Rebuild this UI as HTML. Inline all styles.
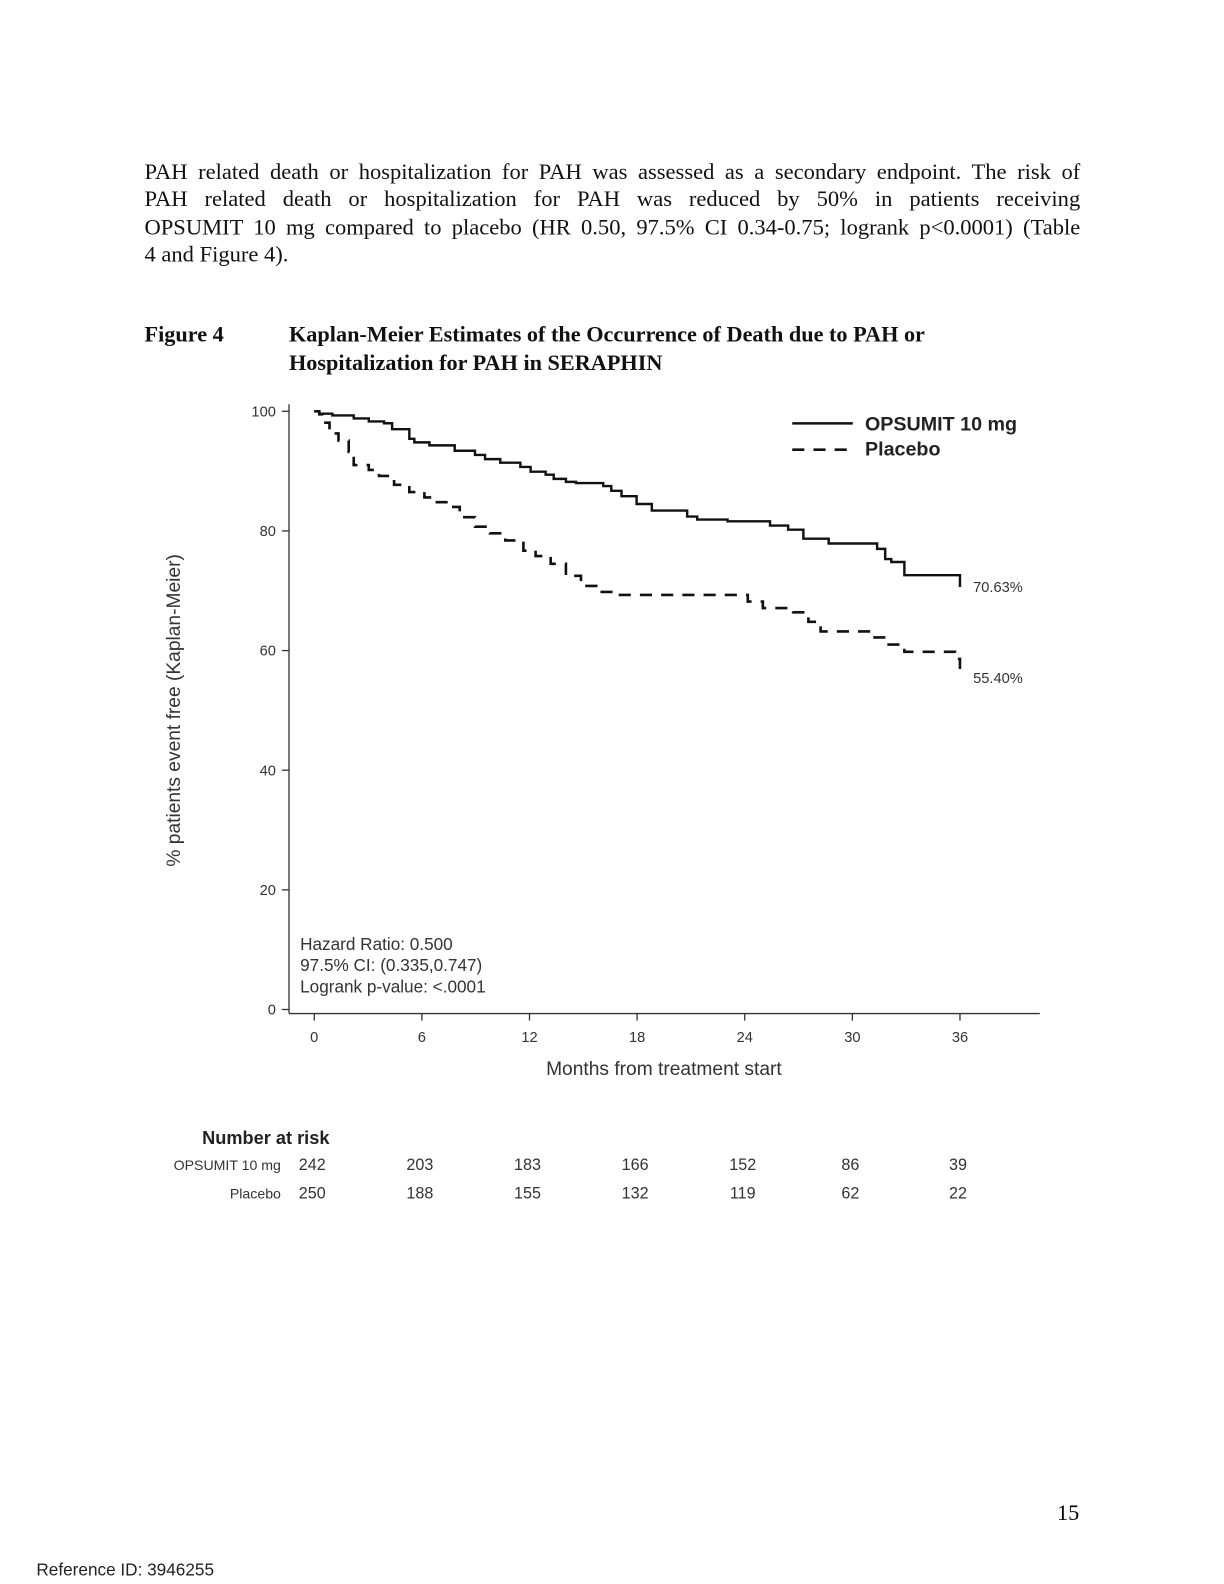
<!DOCTYPE html>
<html><head><meta charset="utf-8"><style>
html{margin:0;padding:0;width:1224px;height:1584px;overflow:hidden;background:#fff;}
body{margin:0;padding:0;width:1224px;height:1584px;position:relative;overflow:hidden;background:#fff;}
#wrap{position:absolute;left:0;top:0;width:1224px;height:1584px;transform:scale(1.0105);transform-origin:0 0;}
.ln{position:absolute;left:143px;width:926px;font-family:"Liberation Serif",serif;font-size:22.3px;line-height:27.5px;text-align:justify;text-align-last:justify;color:#111;white-space:nowrap;}
.ln.last{text-align-last:left;}
.cap{position:absolute;font-family:"Liberation Serif",serif;font-weight:bold;font-size:22px;line-height:28px;color:#111;white-space:nowrap;}
svg{position:absolute;left:0;top:0;display:block;}
</style></head><body>
<div id="wrap">
<div>
<div class="ln" style="top:156px;white-space:normal">PAH related death or hospitalization for PAH was assessed as a secondary endpoint. The risk of</div>
<div class="ln" style="top:183px;white-space:normal">PAH related death or hospitalization for PAH was reduced by 50% in patients receiving</div>
<div class="ln" style="top:211px;white-space:normal">OPSUMIT 10 mg compared to placebo (HR 0.50, 97.5% CI 0.34-0.75; logrank p&lt;0.0001) (Table</div>
<div class="ln last" style="top:238px">4 and Figure 4).</div>
</div>
<div class="cap" style="left:143px;top:317px">Figure 4</div>
<div class="cap" style="left:286px;top:317px">Kaplan-Meier Estimates of the Occurrence of Death due to PAH or<br>Hospitalization for PAH in SERAPHIN</div>
<svg id="chart" width="1224" height="1584" font-family="Liberation Sans, sans-serif"></svg>
<div style="position:absolute;left:1046px;top:1484px;font-family:'Liberation Serif',serif;font-size:22px">15</div>
<div style="position:absolute;left:36px;top:1544px;font-family:'Liberation Sans',sans-serif;font-size:17px;color:#222">Reference ID: 3946255</div>
</div>
<script>
const xTicks=[0,6,12,18,24,30,36];
const yTicks=[0,20,40,60,80,100];
const opsMonths=[0,0.28,1.01,2.2,3.04,3.89,4.34,5.3,5.58,6.42,7.83,8.96,9.52,10.37,11.49,12.06,12.9,13.35,14.03,14.59,16.11,16.56,17.13,17.97,18.82,20.79,21.35,23.04,25.41,26.42,27.27,28.68,31.38,31.83,32.17,32.9,36];
const opsValues=[100,99.6,99.3,98.8,98.3,98,97,95.4,94.8,94.3,93.4,92.7,92,91.4,90.7,89.9,89.4,88.7,88.2,88,87.5,86.7,85.8,84.5,83.4,82.4,81.9,81.6,80.9,80.2,78.7,77.9,77,75.3,74.8,72.6,70.63];
const plaMonths=[0,0.28,0.51,0.85,1.35,1.92,2.2,3.04,3.61,4.45,5.3,6.14,6.7,7.55,8.11,8.96,9.8,10.65,11.66,12.34,13.18,14.03,14.87,15.72,16.85,23.32,24.17,25.01,26.7,27.55,28.23,31.04,31.77,32.9,35.72,36];
const plaValues=[100,99.5,98.1,96.3,95.1,93.2,91,90.2,89.2,87.7,86.5,85.6,84.8,84,82.3,80.7,79.6,78.4,76.7,75.8,74.5,72.5,70.8,69.8,69.3,69.3,68.2,67.1,66.4,64.8,63.2,62.2,61,59.8,58.6,56.8,55.4];
const riskOps=[242,203,183,166,152,86,39];
const riskPla=[250,188,155,132,119,62,22];
const endLabels=["70.63%","55.40%"];

const NS="http://www.w3.org/2000/svg";
const svg=document.getElementById('chart');
const X=m=>311+m*(950-311)/36;
const Y=v=>999-v*(999-407)/100;
function mk(tag,attrs,txt){const e=document.createElementNS(NS,tag);for(const k in attrs)e.setAttribute(k,attrs[k]);if(txt!==undefined)e.textContent=txt;svg.appendChild(e);return e;}

let e;
e=mk('line',{x1:286,y1:400,x2:286,y2:1003,stroke:'#333','stroke-width':1.3});


e=mk('line',{x1:286,y1:1003,x2:1029,y2:1003,stroke:'#333','stroke-width':1.3});


yTicks.forEach(v=>{
  e=mk('line',{x1:279,y1:Y(v),x2:286,y2:Y(v),stroke:'#333','stroke-width':1.3});
  
  
  e=mk('text',{x:273,y:Y(v)+5,'text-anchor':'end','font-size':14.5,fill:'#333'},String(v));
  
  
});
xTicks.forEach((m,i)=>{
  e=mk('line',{x1:X(m),y1:1003,x2:X(m),y2:1010,stroke:'#333','stroke-width':1.3});
  
  
  e=mk('text',{x:X(m),y:1031,'text-anchor':'middle','font-size':14.5,fill:'#333'},String(m));
  
  
  e=mk('text',{x:X(m)-2,y:1158,'text-anchor':'middle','font-size':16,fill:'#333'},String(riskOps[i]));
  
  
  e=mk('text',{x:X(m)-2,y:1186,'text-anchor':'middle','font-size':16,fill:'#333'},String(riskPla[i]));
  
  
});
e=mk('text',{x:657,y:1064,'text-anchor':'middle','font-size':19,fill:'#333'},'Months from treatment start');


e=mk('text',{x:0,y:0,'text-anchor':'middle','font-size':19,fill:'#333',transform:'translate(178,703) rotate(-90)'},'% patients event free (Kaplan-Meier)');



function stepPath(ms,vs){let d='M'+X(ms[0])+' '+Y(vs[0]);for(let i=1;i<ms.length;i++){d+=' H'+X(ms[i])+' V'+Y(vs[i]);}return d;}
e=mk('path',{d:stepPath(opsMonths,opsValues),fill:'none',stroke:'#111','stroke-width':2.4});


e=mk('path',{d:stepPath(plaMonths,plaValues),fill:'none',stroke:'#111','stroke-width':2.6,'stroke-dasharray':'12 9'});


e=mk('text',{x:963,y:Y(opsValues[opsValues.length-1])+5,'font-size':14.5,fill:'#333'},endLabels[0]);


e=mk('text',{x:963,y:Y(plaValues[plaValues.length-1])+5,'font-size':14.5,fill:'#333'},endLabels[1]);



e=mk('line',{x1:784,y1:419,x2:844,y2:419,stroke:'#111','stroke-width':2.4});


e=mk('text',{x:856,y:426,'font-size':19.5,'font-weight':'bold',fill:'#222'},'OPSUMIT 10 mg');


e=mk('line',{x1:784,y1:445,x2:844,y2:445,stroke:'#111','stroke-width':2.6,'stroke-dasharray':'12 9'});


e=mk('text',{x:856,y:451,'font-size':19.5,'font-weight':'bold',fill:'#222'},'Placebo');



[['Hazard Ratio: 0.500',940],['97.5% CI: (0.335,0.747)',961],['Logrank p-value: <.0001',982]].forEach(t=>{
  e=mk('text',{x:297,y:t[1],'font-size':17,fill:'#333'},t[0]);
  
  
});
e=mk('text',{x:326,y:1132,'text-anchor':'end','font-size':18,'font-weight':'bold',fill:'#222'},'Number at risk');


e=mk('text',{x:278,y:1158,'text-anchor':'end','font-size':14,fill:'#333'},'OPSUMIT 10 mg');


e=mk('text',{x:278,y:1186,'text-anchor':'end','font-size':14,fill:'#333'},'Placebo');


</script>
</body></html>
